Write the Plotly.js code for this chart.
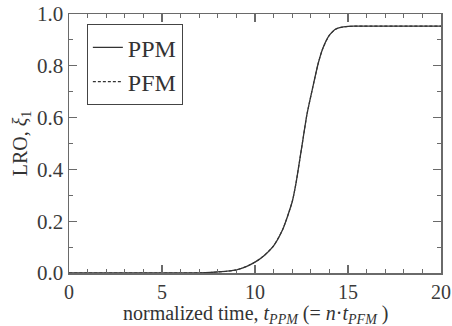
<!DOCTYPE html>
<html>
<head>
<meta charset="utf-8">
<script src="https://cdn.plot.ly/plotly-3.0.1.min.js"></script>
<style>html,body{margin:0;padding:0;background:#fff;}#chart{width:452px;height:326px;}</style>
</head>
<body>
<div id="chart"></div>
<script>
// normalized time
const tPPM = [0, 6, 7, 7.6, 8, 8.5, 9, 9.5, 10, 10.5, 11, 11.5, 12, 12.2, 12.5, 12.8, 13.1, 13.4, 13.65, 14.0, 14.3, 14.6, 15.0, 15.3, 20];
const lroPPM = [0, 0, 0.0005, 0.002, 0.004, 0.007, 0.012, 0.024, 0.042, 0.068, 0.105, 0.17, 0.275, 0.345, 0.48, 0.615, 0.715, 0.81, 0.868, 0.918, 0.94, 0.948, 0.952, 0.953, 0.953];
const tPFM = [0, 6, 7, 7.6, 8, 8.5, 9, 9.5, 10, 10.5, 11, 11.5, 12, 12.2, 12.5, 12.8, 13.1, 13.4, 13.65, 14.0, 14.3, 14.6, 15.0, 15.3, 20];
const lroPFM = [0, 0, 0.0005, 0.002, 0.004, 0.007, 0.012, 0.024, 0.042, 0.068, 0.105, 0.17, 0.275, 0.345, 0.48, 0.615, 0.715, 0.81, 0.868, 0.918, 0.94, 0.948, 0.952, 0.953, 0.953];
const xTicks = [0, 5, 10, 15, 20];
const yTicks = [0, 0.2, 0.4, 0.6, 0.8, 1.0];
const yTickText = ['0.0', '0.2', '0.4', '0.6', '0.8', '1.0'];
const xTitle = 'normalized time, <i>t</i><sub><i>PPM</i></sub> (= <i>n</i>·<i>t</i><sub><i>PFM</i></sub> )';
const yTitle = 'LRO, <i>ξ</i><sub>1</sub>';

const font = 'Liberation Serif, Times New Roman, serif';
const axisCol = '#6a6a6a';

const traces = [
  {x: tPPM, y: lroPPM, name: 'PPM', mode: 'lines', line: {color: '#333', width: 1.3, shape: 'spline', smoothing: 0.6}},
  {x: tPFM, y: lroPFM, name: 'PFM', mode: 'lines', line: {color: '#333', width: 1.1, dash: '3px,2px', shape: 'spline', smoothing: 0.6}}
];

const axisCommon = {
  showgrid: false, zeroline: false, showline: true, linecolor: axisCol, linewidth: 1.5,
  mirror: 'allticks', ticks: 'inside', ticklen: 8, tickwidth: 1.3, tickcolor: axisCol,
  tickfont: {family: font, size: 21, color: '#3a3a3a'}, automargin: false
};

const layout = {
  width: 452, height: 326,
  margin: {l: 69, r: 11, t: 14, b: 53},
  paper_bgcolor: '#fff', plot_bgcolor: '#fff',
  showlegend: true,
  legend: {x: 0.048, y: 0.96, xanchor: 'left', yanchor: 'top', bgcolor: '#fff',
    bordercolor: '#444', borderwidth: 1, font: {family: font, size: 24, color: '#333'},
    tracegroupgap: 0},
  xaxis: Object.assign({}, axisCommon, {
    range: [0, 20], tickvals: xTicks, ticktext: xTicks.map(String), ticklabelstandoff: 0,
    tickfont: {family: font, size: 20, color: '#3a3a3a'},
    minor: {dtick: 1, ticklen: 4, tickcolor: axisCol, ticks: 'inside', tickwidth: 1.1}
  }),
  yaxis: Object.assign({}, axisCommon, {
    range: [0, 1], tickvals: yTicks, ticktext: yTickText,
    minor: {dtick: 0.1, ticklen: 4, tickcolor: axisCol, ticks: 'inside', tickwidth: 1.1},
    title: {text: yTitle, font: {family: font, size: 20, color: '#333'}, standoff: 4}
  }),
  annotations: [
    {text: xTitle, xref: 'paper', yref: 'paper', x: 0.5, y: -0.215, xanchor: 'center', yanchor: 'bottom',
     showarrow: false, font: {family: font, size: 20, color: '#333'}}
  ]
};

Plotly.newPlot('chart', traces, layout, {staticPlot: true, displayModeBar: false});
</script>
</body>
</html>
